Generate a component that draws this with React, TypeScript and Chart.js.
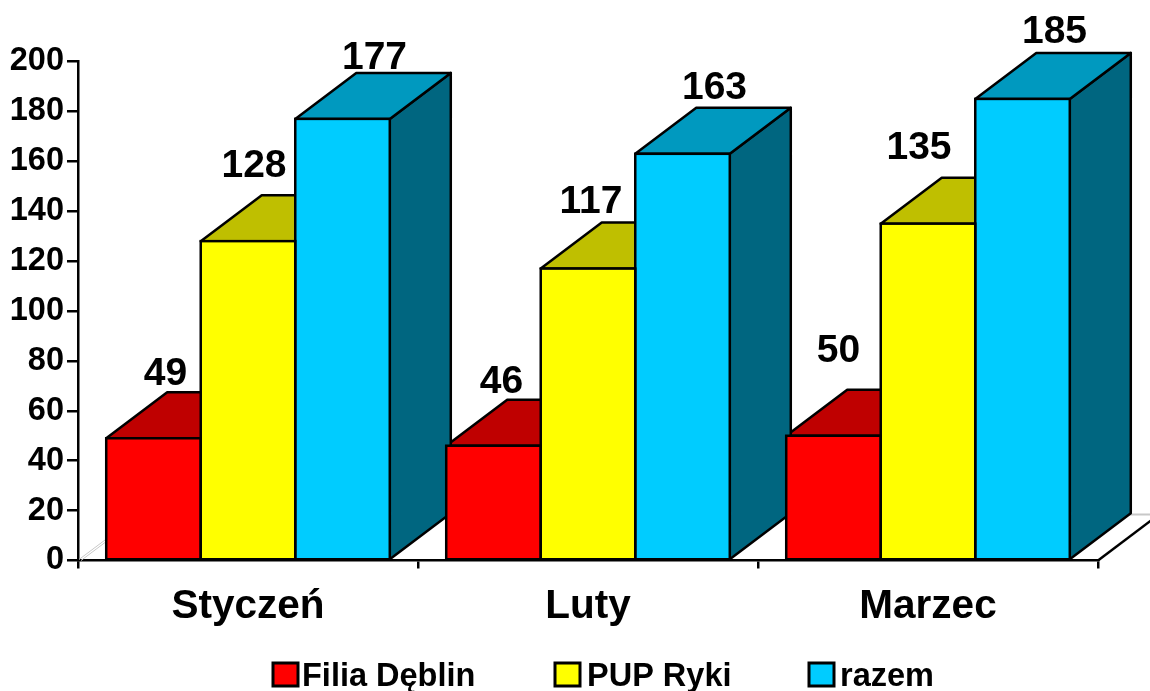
import React, { useEffect, useRef } from "react";
import { Chart, registerables } from "chart.js";

Chart.register(...registerables);

const categories = ["Styczeń", "Luty", "Marzec"];
const filiaDeblin = [49, 46, 50];
const pupRyki = [128, 117, 135];
const razem = [177, 163, 185];
const seriesNames = ["Filia Dęblin", "PUP Ryki", "razem"];
const yMax = 200;
const yStep = 20;

const frontColors = ["#FF0000", "#FFFF00", "#00CCFF"];
const topColors = ["#BF0000", "#BFBF00", "#0099BF"];
const sideColors = ["#800000", "#808000", "#006680"];

const FONT = '"Liberation Sans", Arial, sans-serif';
const DEPTH_X = 61;
const DEPTH_Y = 46;
const LINE = 2.5;

// Placement of the value labels relative to each bar, per series and category.
const labelShiftX = [[12, 8, 5], [6, 3, -9], [32, 32, 32]];
const labelShiftY = [[53, 53, 74], [64, 56, 65], [50, 55, 56]];
const legendSwatchX = [273, 555, 809];
const legendTextX = [302, 587, 840];

const box3d = {
  id: "box3d",
  beforeDatasetsDraw(chart: any) {
    const { ctx, chartArea } = chart;
    const { left, right, bottom } = chartArea;
    ctx.save();
    ctx.strokeStyle = "#C8C8C8";
    ctx.lineWidth = 1;
    ctx.beginPath();
    ctx.moveTo(left + 1, bottom - 1);
    ctx.lineTo(left + DEPTH_X, bottom - DEPTH_Y);
    ctx.moveTo(left + 3, bottom);
    ctx.lineTo(left + DEPTH_X + 2, bottom - DEPTH_Y + 1);
    ctx.stroke();
    ctx.lineWidth = 2;
    ctx.beginPath();
    ctx.moveTo(left + DEPTH_X, bottom - DEPTH_Y);
    ctx.lineTo(right + DEPTH_X, bottom - DEPTH_Y);
    ctx.stroke();
    ctx.strokeStyle = "#000";
    ctx.lineWidth = LINE;
    ctx.beginPath();
    ctx.moveTo(right, bottom);
    ctx.lineTo(right + DEPTH_X, bottom - DEPTH_Y);
    ctx.stroke();
    ctx.lineJoin = "round";
    chart.data.datasets.forEach((_: any, d: number) => {
      chart.getDatasetMeta(d).data.forEach((bar: any) => {
        const x0 = bar.x - bar.width / 2;
        const x1 = bar.x + bar.width / 2;
        const y = bar.y;
        const b = bar.base;
        ctx.fillStyle = sideColors[d];
        ctx.beginPath();
        ctx.moveTo(x1, y);
        ctx.lineTo(x1 + DEPTH_X, y - DEPTH_Y);
        ctx.lineTo(x1 + DEPTH_X, b - DEPTH_Y);
        ctx.lineTo(x1, b);
        ctx.closePath();
        ctx.fill();
        ctx.stroke();
        ctx.fillStyle = topColors[d];
        ctx.beginPath();
        ctx.moveTo(x0, y);
        ctx.lineTo(x0 + DEPTH_X, y - DEPTH_Y);
        ctx.lineTo(x1 + DEPTH_X, y - DEPTH_Y);
        ctx.lineTo(x1, y);
        ctx.closePath();
        ctx.fill();
        ctx.stroke();
      });
    });
    ctx.restore();
  },
  afterDatasetsDraw(chart: any) {
    const { ctx } = chart;
    ctx.save();
    ctx.strokeStyle = "#000";
    ctx.lineWidth = LINE;
    chart.data.datasets.forEach((_: any, d: number) => {
      chart.getDatasetMeta(d).data.forEach((bar: any) => {
        ctx.strokeRect(bar.x - bar.width / 2, bar.y, bar.width, bar.base - bar.y);
      });
    });
    ctx.fillStyle = "#000";
    ctx.font = `bold 39px ${FONT}`;
    ctx.textAlign = "center";
    ctx.textBaseline = "alphabetic";
    chart.data.datasets.forEach((ds: any, d: number) => {
      chart.getDatasetMeta(d).data.forEach((bar: any, i: number) => {
        ctx.fillText(String(ds.data[i]), bar.x + labelShiftX[d][i], bar.y - labelShiftY[d][i]);
      });
    });
    // legend
    ctx.textAlign = "left";
    ctx.font = `bold 32.5px ${FONT}`;
    chart.data.datasets.forEach((ds: any, d: number) => {
      ctx.fillStyle = ds.backgroundColor;
      ctx.strokeStyle = "#000";
      ctx.lineWidth = 3;
      ctx.fillRect(legendSwatchX[d], 663, 25, 23);
      ctx.strokeRect(legendSwatchX[d], 663, 25, 23);
      ctx.fillStyle = "#000";
      ctx.fillText(ds.label, legendTextX[d], 686);
    });
    ctx.restore();
  },
};

export default function App() {
  const ref = useRef<HTMLCanvasElement>(null);
  useEffect(() => {
    const chart = new Chart(ref.current as HTMLCanvasElement, {
      type: "bar",
      data: {
        labels: categories,
        datasets: [filiaDeblin, pupRyki, razem].map((data, i) => ({
          label: seriesNames[i],
          data,
          backgroundColor: frontColors[i],
          borderWidth: 0,
          categoryPercentage: 0.834,
          barPercentage: 1,
        })),
      },
      options: {
        animation: false,
        responsive: false,
        devicePixelRatio: 1,
        layout: { padding: { top: 61.5, right: 52, bottom: 0, left: 0 } },
        plugins: { legend: { display: false }, tooltip: { enabled: false } },
        scales: {
          x: {
            afterFit: (s: any) => { s.height = 130.5; },
            border: { color: "#000", width: LINE },
            grid: { drawOnChartArea: false, color: "#000", lineWidth: LINE, tickLength: 8 },
            ticks: { color: "#000", padding: 14, maxRotation: 0, font: { family: FONT, size: 40.5, weight: "bold" } },
          },
          y: {
            min: 0,
            max: yMax,
            afterFit: (s: any) => { s.width = 78; },
            border: { color: "#000", width: LINE },
            grid: { drawOnChartArea: false, color: "#000", lineWidth: LINE, tickLength: 11 },
            ticks: { stepSize: yStep, color: "#000", padding: 3, font: { family: FONT, size: 32.5, weight: "bold" } },
          },
        },
      },
      plugins: [box3d],
    } as any);
    return () => chart.destroy();
  }, []);
  return (
    <div style={{ position: "absolute", left: 0, top: 0, width: 1150, height: 691, background: "#fff" }}>
      <canvas ref={ref} width={1150} height={691} style={{ display: "block" }} />
    </div>
  );
}
